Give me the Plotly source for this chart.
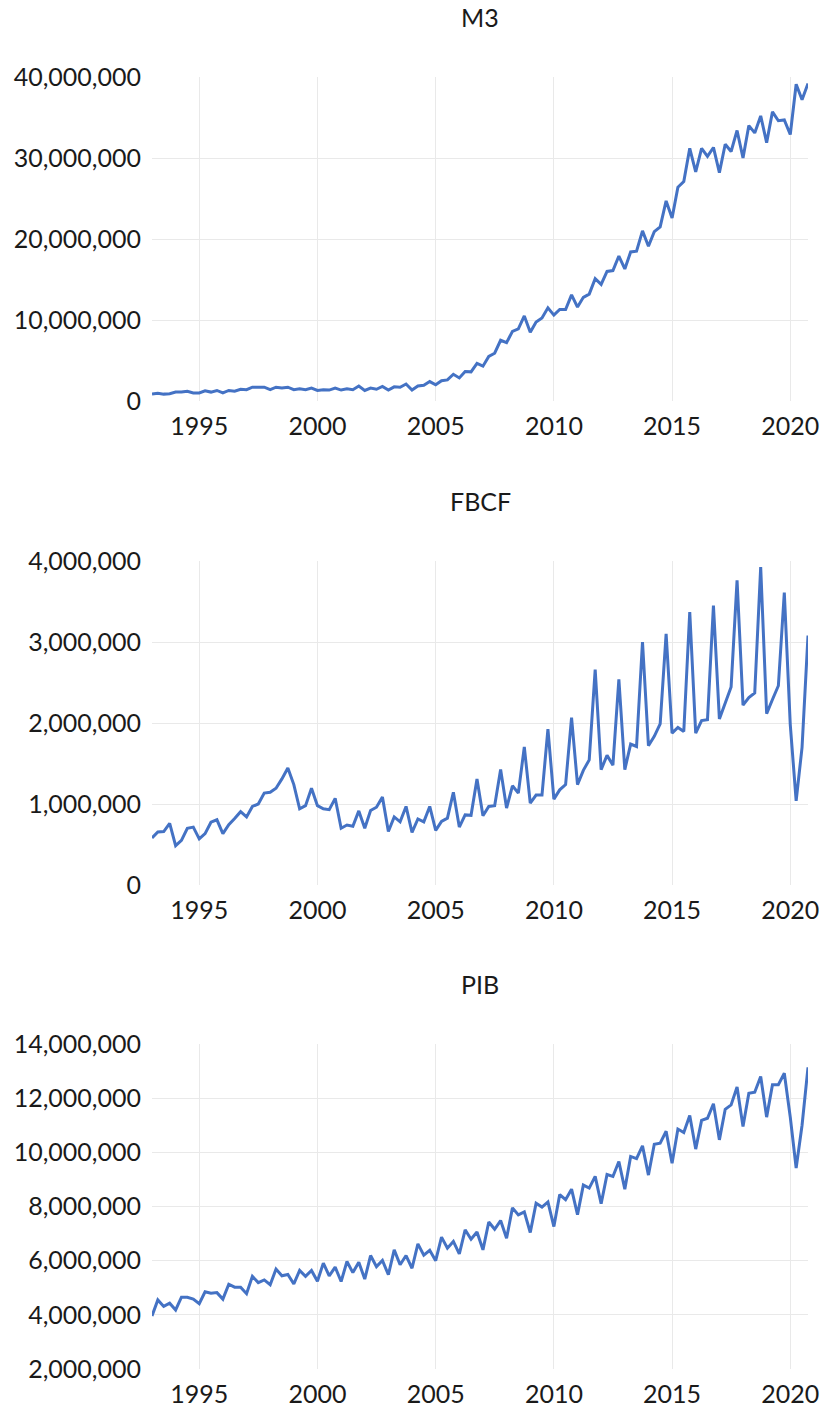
import pandas as pd
import plotly.graph_objects as go
from plotly.subplots import make_subplots

# quarterly series, 1993Q1 .. 2020Q4
quarters = pd.date_range('1993-01-01', periods=112, freq='QS')

m3 = [
    850000, 950000, 850000, 900000,
    1100000, 1100000, 1200000, 1000000,
    1000000, 1250000, 1100000, 1300000,
    1000000, 1300000, 1200000, 1450000,
    1400000, 1700000, 1700000, 1700000,
    1400000, 1700000, 1600000, 1700000,
    1400000, 1500000, 1400000, 1600000,
    1300000, 1400000, 1350000, 1600000,
    1350000, 1500000, 1400000, 1850000,
    1300000, 1600000, 1450000, 1800000,
    1350000, 1750000, 1700000, 2100000,
    1350000, 1850000, 1950000, 2400000,
    2000000, 2500000, 2600000, 3300000,
    2850000, 3650000, 3600000, 4650000,
    4300000, 5500000, 5900000, 7500000,
    7200000, 8600000, 8900000, 10500000,
    8500000, 9750000, 10250000, 11500000,
    10600000, 11300000, 11300000, 13100000,
    11600000, 12800000, 13200000, 15100000,
    14400000, 16000000, 16100000, 17900000,
    16300000, 18400000, 18500000, 21000000,
    19100000, 20900000, 21500000, 24700000,
    22600000, 26400000, 27100000, 31200000,
    28300000, 31200000, 30200000, 31300000,
    28200000, 31700000, 30800000, 33400000,
    30000000, 34000000, 33100000, 35200000,
    31900000, 35700000, 34600000, 34700000,
    32900000, 39100000, 37200000, 39200000,
]

fbcf = [
    580000, 655000, 660000, 760000,
    485000, 550000, 700000, 715000,
    570000, 635000, 775000, 805000,
    635000, 745000, 820000, 905000,
    840000, 970000, 1000000, 1135000,
    1145000, 1195000, 1310000, 1445000,
    1240000, 940000, 980000, 1195000,
    980000, 940000, 930000, 1070000,
    700000, 740000, 725000, 915000,
    700000, 920000, 960000, 1085000,
    660000, 840000, 780000, 970000,
    650000, 815000, 780000, 970000,
    675000, 785000, 825000, 1145000,
    715000, 865000, 860000, 1310000,
    855000, 970000, 980000, 1425000,
    950000, 1225000, 1135000, 1705000,
    1010000, 1110000, 1110000, 1925000,
    1060000, 1175000, 1240000, 2065000,
    1240000, 1415000, 1545000, 2660000,
    1425000, 1600000, 1480000, 2540000,
    1425000, 1740000, 1710000, 3000000,
    1720000, 1835000, 1990000, 3100000,
    1875000, 1945000, 1895000, 3370000,
    1875000, 2030000, 2040000, 3450000,
    2050000, 2245000, 2445000, 3760000,
    2220000, 2315000, 2370000, 3925000,
    2115000, 2290000, 2460000, 3610000,
    1980000, 1040000, 1700000, 3080000,
]

pib = [
    3960000, 4550000, 4310000, 4430000,
    4180000, 4650000, 4650000, 4580000,
    4410000, 4850000, 4800000, 4820000,
    4580000, 5130000, 5020000, 5020000,
    4780000, 5420000, 5190000, 5290000,
    5110000, 5690000, 5440000, 5490000,
    5140000, 5640000, 5420000, 5640000,
    5240000, 5910000, 5440000, 5760000,
    5230000, 5970000, 5560000, 5940000,
    5320000, 6190000, 5780000, 6010000,
    5480000, 6400000, 5850000, 6190000,
    5720000, 6620000, 6200000, 6380000,
    6000000, 6870000, 6460000, 6710000,
    6250000, 7140000, 6790000, 7060000,
    6400000, 7430000, 7160000, 7480000,
    6830000, 7950000, 7690000, 7800000,
    7040000, 8120000, 7980000, 8170000,
    7260000, 8440000, 8250000, 8640000,
    7700000, 8790000, 8680000, 9110000,
    8100000, 9180000, 9110000, 9660000,
    8640000, 9850000, 9770000, 10240000,
    9160000, 10300000, 10340000, 10780000,
    9600000, 10860000, 10730000, 11360000,
    10120000, 11180000, 11260000, 11790000,
    10460000, 11590000, 11750000, 12410000,
    10950000, 12180000, 12220000, 12800000,
    11300000, 12500000, 12500000, 12920000,
    11300000, 9420000, 11000000, 13140000,
]

titles = ['M3', 'FBCF', 'PIB']
year_ticks = ['1995', '2000', '2005', '2010', '2015', '2020']
y_ranges = [[0, 40000000], [0, 4000000], [2000000, 14000000]]
y_dticks = [10000000, 1000000, 2000000]

W, H = 823, 1408
# plot areas in pixels from the top: (top, bottom)
areas = [(77, 401), (561, 885), (1044, 1369)]

font = dict(family='Lato, "Open Sans", sans-serif', size=25, color='#1a1a1a')
line_color = '#4472C4'
grid_color = '#e9e9e9'

fig = make_subplots(rows=3, cols=1)

for i, series in enumerate([m3, fbcf, pib]):
    fig.add_trace(
        go.Scatter(x=quarters, y=series, mode='lines',
                   line=dict(color=line_color, width=3),
                   showlegend=False),
        row=i + 1, col=1
    )

for i in range(3):
    top, bottom = areas[i]
    n = '' if i == 0 else str(i + 1)
    fig.layout['xaxis' + n].update(
        domain=[0, 1],
        range=['1993-01-01', '2020-10-01'],
        tickvals=[y + '-01-01' for y in year_ticks],
        ticktext=year_ticks,
        showgrid=True,
        gridcolor=grid_color,
        gridwidth=1,
        showline=False,
        zeroline=False,
        ticks='',
        tickfont=font,
        ticklabelstandoff=8,
        automargin=False,
    )
    fig.layout['yaxis' + n].update(
        domain=[1 - bottom / H, 1 - top / H],
        range=y_ranges[i],
        dtick=y_dticks[i],
        tickformat=',d',
        showgrid=True,
        gridcolor=grid_color,
        gridwidth=1,
        showline=False,
        zeroline=False,
        ticks='',
        tickfont=font,
        ticklabelstandoff=10,
        automargin=False,
    )
    fig.add_annotation(
        text=titles[i], xref='paper', yref='paper',
        x=0.5, y=1 - (top - 60) / H,
        xanchor='center', yanchor='middle',
        showarrow=False, font=font,
    )

fig.update_layout(
    width=W,
    height=H,
    margin=dict(l=152, r=15, t=0, b=0),
    plot_bgcolor='white',
    paper_bgcolor='white',
    font=font,
)

# drop the default page margin so the figure fills the window exactly
fig.write_html(
    'out.html',
    config={'displayModeBar': False},
    post_script="document.body.style.margin='0';document.body.style.overflow='hidden';",
)
